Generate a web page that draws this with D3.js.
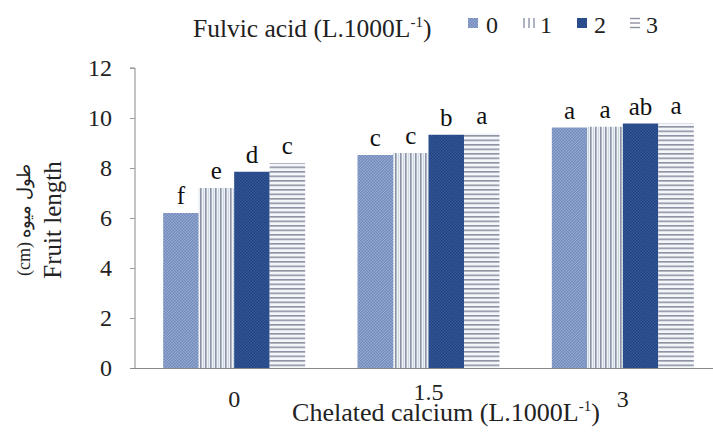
<!DOCTYPE html>
<html><head><meta charset="utf-8">
<script src="https://cdn.jsdelivr.net/npm/d3@7"></script>
<style>body{margin:0;background:#fff}svg{display:block}
svg text{font-family:"Liberation Serif","Times New Roman","DejaVu Serif",serif;}
</style>
</head><body>
<script>
const categories = ["0", "1.5", "3"];
const seriesNames = ["0", "1", "2", "3"];
const values = [
  [6.2, 8.52, 9.62],
  [7.2, 8.6, 9.65],
  [7.85, 9.33, 9.78],
  [8.2, 9.4, 9.8]
];
const letters = [
  ["f", "c", "a"],
  ["e", "c", "a"],
  ["d", "b", "ab"],
  ["c", "a", "a"]
];
const yTicks = [0, 2, 4, 6, 8, 10, 12];

const W = 713, H = 438;
const svg = d3.select("body").append("svg").attr("width", W).attr("height", H);
const defs = svg.append("defs");

function dotPattern(id, bg, dot) {
  const p = defs.append("pattern").attr("id", id).attr("patternUnits", "userSpaceOnUse").attr("width", 3).attr("height", 3);
  p.append("rect").attr("width", 3).attr("height", 3).attr("fill", bg);
  p.append("rect").attr("x", 0).attr("y", 0).attr("width", 1.5).attr("height", 1.5).attr("fill", dot);
  p.append("rect").attr("x", 1.5).attr("y", 1.5).attr("width", 1.5).attr("height", 1.5).attr("fill", dot);
}
dotPattern("p0", "#96a9d0", "#7088b9");
dotPattern("p2", "#35599b", "#20407e");
{
  const p = defs.append("pattern").attr("id", "p1").attr("patternUnits", "userSpaceOnUse").attr("width", 5).attr("height", 5);
  p.append("rect").attr("width", 5).attr("height", 5).attr("fill", "#eef2f6");
  p.append("rect").attr("x", 0).attr("width", 1.6).attr("height", 5).attr("fill", "#8c93a6");
  p.append("rect").attr("x", 3).attr("width", 0.8).attr("height", 5).attr("fill", "#c5d4df");
}
{
  const p = defs.append("pattern").attr("id", "p3").attr("patternUnits", "userSpaceOnUse").attr("width", 5).attr("height", 4.5);
  p.append("rect").attr("width", 5).attr("height", 4.5).attr("fill", "#f4f6fa");
  p.append("rect").attr("y", 0).attr("width", 5).attr("height", 1.6).attr("fill", "#8e93a3");
}
const fills = ["url(#p0)", "url(#p1)", "url(#p2)", "url(#p3)"];

const plotLeft = 135, plotTop = 68, plotBottom = 368;
const x0 = d3.scaleBand().domain(categories).range([137, 720]).paddingInner(0).paddingOuter(0);
const barW = 35.5;
const x1 = d3.scaleBand().domain(seriesNames).range([0, barW * 4]).padding(0);
const y = d3.scaleLinear().domain([0, 12]).range([plotBottom, plotTop]);

categories.forEach((c, ci) => {
  const gx = x0(c) + x0.bandwidth() / 2 - barW * 2;
  seriesNames.forEach((s, si) => {
    const v = values[si][ci];
    svg.append("rect")
      .attr("x", gx + x1(s)).attr("y", y(v))
      .attr("width", x1.bandwidth()).attr("height", y(0) - y(v))
      .attr("fill", fills[si]);
    svg.append("text")
      .attr("x", gx + x1(s) + x1.bandwidth() / 2)
      .attr("y", y(v) - 9)
      .attr("text-anchor", "middle")
      .attr("font-size", 25).attr("fill", "#111")
      .text(letters[si][ci]);
  });
});

const yAxis = d3.axisLeft(y).tickValues(yTicks).tickSize(5).tickPadding(18).tickFormat(d3.format("d"));
const ga = svg.append("g").attr("transform", `translate(${plotLeft},0)`).call(yAxis);
ga.attr("font-family", null);
ga.select(".domain").attr("stroke", "#8a8a8a").attr("d", `M-5,${plotTop}H0V${plotBottom}`);
ga.selectAll(".tick line").attr("stroke", "#9a9a9a");
ga.selectAll(".tick text").attr("font-size", 24).attr("fill", "#222");

svg.append("line").attr("x1", plotLeft - 5).attr("x2", 713).attr("y1", plotBottom + 0.5).attr("y2", plotBottom + 0.5)
  .attr("stroke", "#8a8a8a").attr("stroke-width", 1.2);

const xAxis = d3.axisBottom(x0).tickSize(0).tickPadding(0);
const gxx = svg.append("g").attr("transform", `translate(0,${plotBottom})`).call(xAxis);
gxx.attr("font-family", null);
gxx.select(".domain").remove();
gxx.selectAll(".tick text").attr("font-size", 24).attr("fill", "#222")
  .attr("dy", null).attr("y", (d) => d === "1.5" ? 32 : 39);

const xt = svg.append("text").attr("x", 446).attr("y", 421).attr("text-anchor", "middle")
  .attr("font-size", 26).attr("fill", "#222");
xt.append("tspan").text("Chelated calcium (L.1000L");
xt.append("tspan").attr("font-size", 15).attr("dy", -10).text("-1");
xt.append("tspan").attr("dy", 10).text(")");

svg.append("text").attr("transform", "translate(61,220) rotate(-90)").attr("text-anchor", "middle")
  .attr("font-size", 25).attr("fill", "#222").text("Fruit length");
svg.append("text").attr("transform", "translate(30,220) rotate(-90)").attr("text-anchor", "middle")
  .attr("font-size", 18).attr("fill", "#222").attr("direction", "ltr")
  .text("(cm) طول میوه");

const lt = svg.append("text").attr("x", 193).attr("y", 37)
  .attr("font-size", 25.5).attr("fill", "#222");
lt.append("tspan").text("Fulvic acid (L.1000L");
lt.append("tspan").attr("font-size", 15).attr("dy", -10).text("-1");
lt.append("tspan").attr("dy", 10).text(")");

// legend swatches
const legX = [468, 523, 577, 630];
const legTextX = [486, 540, 594, 646];
seriesNames.forEach((s, i) => {
  const g = svg.append("g");
  if (i === 0 || i === 2) {
    g.append("rect").attr("x", legX[i]).attr("y", 18).attr("width", 10).attr("height", 10).attr("fill", fills[i]);
  } else if (i === 1) {
    [0, 5, 10].forEach(dx => g.append("line").attr("x1", legX[i] + dx + 1).attr("x2", legX[i] + dx + 1)
      .attr("y1", 18).attr("y2", 28).attr("stroke", "#8c93a6").attr("stroke-width", 1.4));
  } else {
    [0, 4.5, 9].forEach(dy => g.append("line").attr("x1", legX[i]).attr("x2", legX[i] + 10)
      .attr("y1", 18.5 + dy).attr("y2", 18.5 + dy).attr("stroke", "#8e93a3").attr("stroke-width", 1.4));
  }
  svg.append("text").attr("x", legTextX[i]).attr("y", 33)
    .attr("font-size", 24).attr("fill", "#222").text(s);
});
</script>
</body></html>
